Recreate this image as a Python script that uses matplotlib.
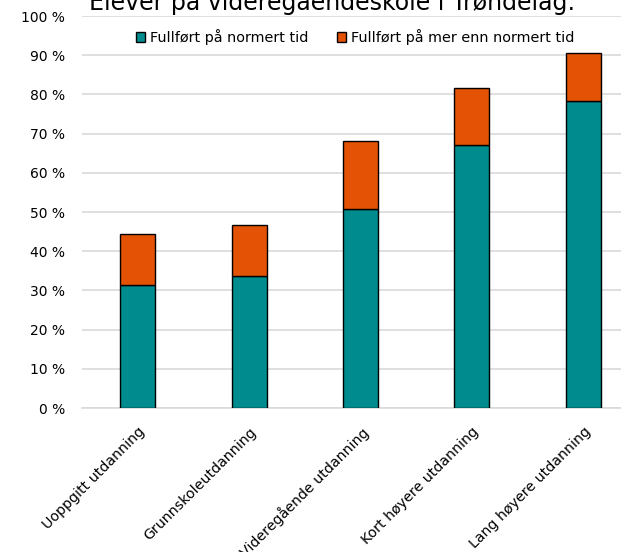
import numpy as np
import matplotlib.pyplot as plt

categories = ["Uoppgitt utdanning", "Grunnskoleutdanning", "Videregående utdanning",
              "Kort høyere utdanning", "Lang høyere utdanning"]
normert = [31.4, 33.6, 50.7, 67.2, 78.3]
totalt = [44.5, 46.6, 68.1, 81.6, 90.6]
mer_enn = [t - n for t, n in zip(totalt, normert)]

teal = "#008B8F"
orange = "#E35205"

fig = plt.figure(figsize=(6.21, 5.52), dpi=100)
ax = fig.add_axes([82 / 621, 1 - 408 / 552, 557 / 621, 392 / 552])

x = np.arange(len(categories))
ax.bar(x, normert, width=0.315, color=teal, edgecolor="black", linewidth=1,
       label="Fullført på normert tid", zorder=3)
ax.bar(x, mer_enn, bottom=normert, width=0.315, color=orange, edgecolor="black",
       linewidth=1, label="Fullført på mer enn normert tid", zorder=3)

ax.set_xlim(-0.5, 4.5)
ax.set_ylim(0, 100)
ax.set_yticks(range(0, 101, 10))
ax.set_yticklabels([f"{v} %" for v in range(0, 101, 10)], fontsize=10)
ax.yaxis.grid(True, color="#d9d9d9", linewidth=1.2, zorder=0)
ax.tick_params(axis="both", length=0)
ax.tick_params(axis="y", pad=12)
ax.tick_params(axis="x", pad=12)
ax.set_xticks(x)
ax.set_xticklabels(categories, rotation=45, ha="right", rotation_mode="anchor",
                   fontsize=10.2)
for s in ["top", "right", "left"]:
    ax.spines[s].set_visible(False)
ax.spines["bottom"].set_color("#d9d9d9")
ax.spines["bottom"].set_linewidth(1.2)

ax.legend(loc="center", bbox_to_anchor=(355 / 621, 1 - 37 / 552),
          bbox_transform=fig.transFigure, ncol=2, frameon=False, fontsize=10.4,
          handlelength=0.65, handleheight=0.65, handletextpad=0.3, columnspacing=2.0,
          borderaxespad=0, borderpad=0)

fig.text(332 / 621, 1 - 10 / 552, "Elever på videregåendeskole i Trøndelag:",
         ha="center", va="baseline", fontsize=17)

fig.savefig("out.png", dpi=100)
